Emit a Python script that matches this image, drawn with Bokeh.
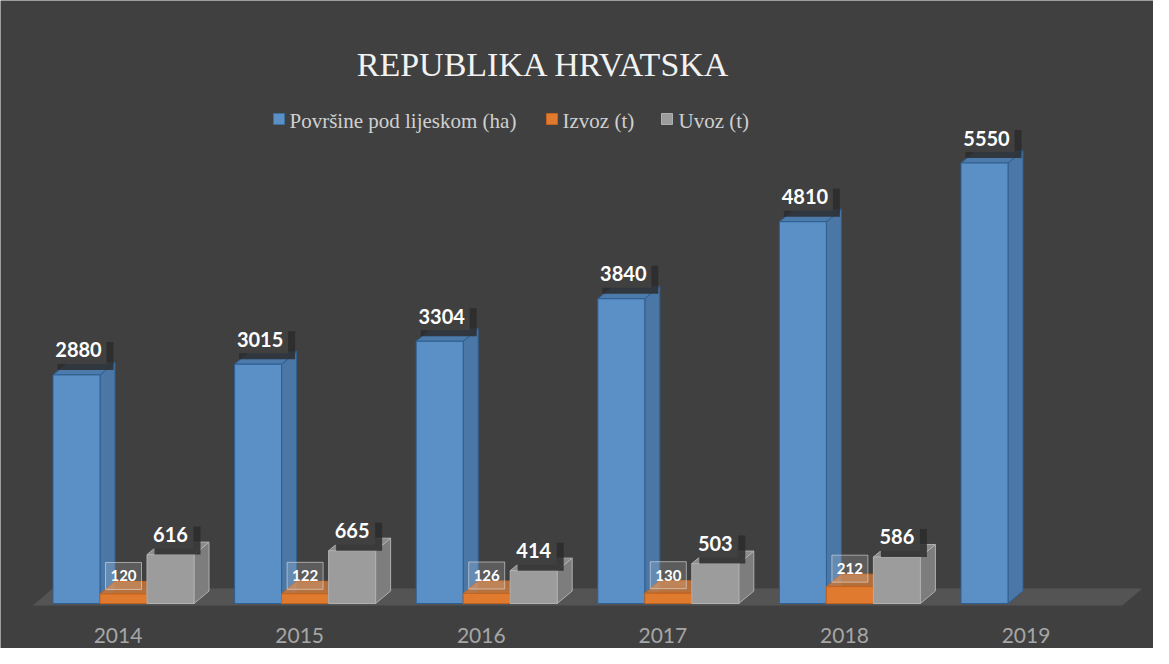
from bokeh.plotting import figure
from bokeh.models import Range1d
from bokeh.core.properties import value
from bokeh.embed import file_html
from bokeh.resources import INLINE

# ---------------- data ----------------
title = "REPUBLIKA HRVATSKA"
years = ["2014", "2015", "2016", "2017", "2018", "2019"]
povrsine = [2880, 3015, 3304, 3840, 4810, 5550]
izvoz = [120, 122, 126, 130, 212, None]
uvoz = [616, 665, 414, 503, 586, None]
series_names = ["Površine pod lijeskom (ha)", "Izvoz (t)", "Uvoz (t)"]
series_colors = ["#5b90c6", "#e07a2e", "#9c9c9c"]

# ---------------- geometry / scales ----------------
W, H = 1153, 648
PXC = 181.6          # pixels per category
VPP = 12.6           # value units per pixel
x0 = -(131 - 8) / PXC
ye = 603 * VPP

p = figure(width=W, height=H, x_range=Range1d(x0, x0 + W / PXC),
           y_range=Range1d(ye - H * VPP, ye), output_backend="svg",
           toolbar_location=None, min_border=0, x_axis_type=None, y_axis_type=None)
p.background_fill_color = "#404040"
p.border_fill_color = "#404040"
p.outline_line_color = None

bw = 47 / PXC
dx = 15 / PXC
dy = 12.5 * VPP
n = len(years)

# floor
fl_front = -2 * VPP
fl_back = 15 * VPP
fdx = 20 / PXC
p.patch([-0.5, -0.5 + fdx, n - 0.5 + fdx, n - 0.5],
        [fl_front, fl_back, fl_back, fl_front],
        fill_color="#545454", line_color=None)


def add_series(vals, off, front, side, top, line, top_alpha=1.0):
    cx = [i + off for i, v in enumerate(vals) if v is not None]
    vv = [v for v in vals if v is not None]
    side_xs = [[c + bw / 2, c + bw / 2 + dx, c + bw / 2 + dx, c + bw / 2] for c in cx]
    side_ys = [[0, dy, v + dy, v] for v in vv]
    top_xs = [[c - bw / 2, c - bw / 2 + dx, c + bw / 2 + dx, c + bw / 2] for c in cx]
    top_ys = [[v, v + dy, v + dy, v] for v in vv]
    p.patches(side_xs, side_ys, fill_color=side, line_color=line, line_width=1)
    p.patches(top_xs, top_ys, fill_color=top, fill_alpha=top_alpha, line_color=line, line_width=1)
    r = p.vbar(x=cx, width=bw, top=vv, bottom=0, fill_color=front, line_color=line, line_width=1)
    return r, cx, vv


r1, cx1, v1 = add_series(povrsine, -bw, series_colors[0], "#4a77a5", "#4b7aab", "#2f5f91")
r2, cx2, v2 = add_series(izvoz, 0.0, series_colors[1], "#b86124", "#c8773a", "#c2631f", 0.85)
r3, cx3, v3 = add_series(uvoz, bw, series_colors[2], "#7d7d7d", "#8b8b8b", "#b0b0b0")

font_lbl = value("Lato")

# blue labels with shadow boxes
ly1 = [v + 25 * VPP for v in v1]
lx1 = [c + 2 / PXC for c in cx1]
p.rect(x=[c + 7 / PXC for c in lx1], y=[y - 6 * VPP for y in ly1], width=56, height=28,
       width_units="screen", height_units="screen", fill_color="#2b2b2b", fill_alpha=0.85, line_color=None)
p.rect(x=lx1, y=ly1, width=56, height=28, width_units="screen", height_units="screen",
       fill_color="#404040", line_color=None)
p.text(x=lx1, y=ly1, text=[str(v) for v in v1], text_font=font_lbl, text_font_style="bold",
       text_font_size="20px", text_color="white", text_align="center", text_baseline="middle")

# gray labels with shadow boxes
ly3 = [v + 20 * VPP for v in v3]
p.rect(x=[c + 7 / PXC for c in cx3], y=[y - 6 * VPP for y in ly3], width=46, height=28,
       width_units="screen", height_units="screen", fill_color="#2b2b2b", fill_alpha=0.85, line_color=None)
p.rect(x=cx3, y=ly3, width=46, height=28, width_units="screen", height_units="screen",
       fill_color="#404040", line_color=None)
p.text(x=cx3, y=ly3, text=[str(v) for v in v3], text_font=font_lbl, text_font_style="bold",
       text_font_size="20px", text_color="white", text_align="center", text_baseline="middle")

# orange labels in translucent boxes
ly2 = [v + 18 * VPP for v in v2]
p.rect(x=cx2, y=ly2, width=36, height=27, width_units="screen", height_units="screen",
       fill_color="white", fill_alpha=0.15, line_color="#e0e0e0", line_alpha=0.6, line_width=1)
p.text(x=cx2, y=ly2, text=[str(v) for v in v2], text_font=font_lbl, text_font_style="bold",
       text_font_size="15px", text_color="white", text_align="center", text_baseline="middle")

# category labels
p.text(x=[i - 0.03 for i in range(n)], y=[-32 * VPP] * n, text=years, text_font=font_lbl,
       text_font_size="21px", text_color="#a6a6a6", text_align="center", text_baseline="middle")

# title
p.text(x=[(551 - 131) / PXC], y=[539 * VPP], text=[title], text_font=value("Liberation Serif"),
       text_font_size="34px", text_color="#f2f2f2", text_align="center", text_baseline="middle")

# legend (drawn with glyphs so the serif font is honoured)
leg_sq_px = [286.5, 559.5, 674.5]
leg_tx_px = [297, 570, 686]
leg_y = (611 - 128) * VPP
p.rect(x=[(v - 131) / PXC for v in leg_sq_px], y=[leg_y + 1.5 * VPP] * 3, width=11, height=11,
       width_units="screen", height_units="screen", fill_color=series_colors,
       line_color=["#3f6f9f", "#c2631f", "#b0b0b0"])
p.text(x=[(v - 131) / PXC for v in leg_tx_px], y=[leg_y] * 3, text=series_names,
       text_font=value("Liberation Serif"), text_font_size="21px", text_color="#d0d0d0",
       text_align="left", text_baseline="middle")

open("out.html", "w").write(file_html(p, INLINE))
